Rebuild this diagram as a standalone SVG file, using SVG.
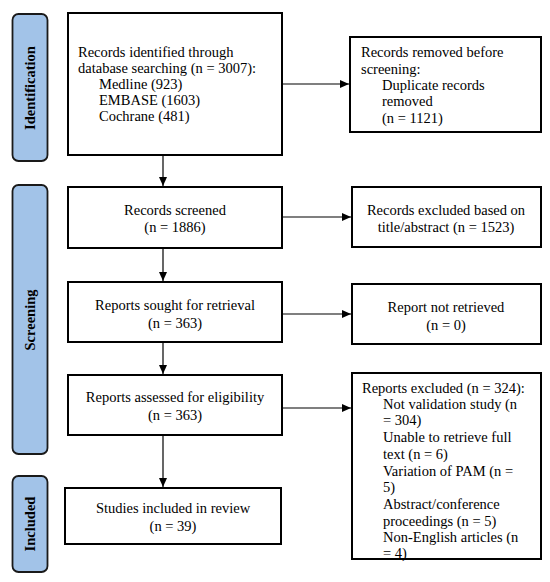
<svg xmlns="http://www.w3.org/2000/svg" width="550" height="582" viewBox="0 0 550 582">
<style>
.box{fill:#fff;stroke:#000;stroke-width:2}
.lab{fill:#a2c3e8;stroke:#1a1a1a;stroke-width:1.8}
.t{font-size:14.5px;fill:#000}
.c{text-anchor:middle}
.lt{font-size:14.5px;font-weight:bold;fill:#000;text-anchor:middle}
.ln{stroke:#000;stroke-width:1.2;fill:none}
</style>
<defs>
<marker id="ah" markerWidth="10" markerHeight="8" refX="9" refY="4" orient="auto" markerUnits="userSpaceOnUse">
<path d="M0,0 L9,4 L0,8 Z" fill="#000"/>
</marker>
</defs>
<g font-family="Liberation Serif, Tinos, Times New Roman, DejaVu Serif, serif">
<g id="label-identification">
<rect class="lab" x="12.5" y="14" width="35" height="147" rx="6"/>
<text class="lt" transform="translate(35,88) rotate(-90)">Identification</text>
</g>
<g id="label-screening">
<rect class="lab" x="12.5" y="185" width="35" height="269" rx="6"/>
<text class="lt" transform="translate(35,320) rotate(-90)">Screening</text>
</g>
<g id="label-included">
<rect class="lab" x="12.5" y="476" width="35" height="96" rx="6"/>
<text class="lt" transform="translate(35,524) rotate(-90)">Included</text>
</g>
<g id="identified">
<rect class="box" x="68" y="13" width="214" height="142"/>
<text class="t" x="78" y="57">Records identified through</text>
<text class="t" x="78" y="73">database searching (n = 3007):</text>
<text class="t" x="99" y="89">Medline (923)</text>
<text class="t" x="99" y="105">EMBASE (1603)</text>
<text class="t" x="99" y="121">Cochrane (481)</text>
</g>
<g id="removed">
<rect class="box" x="350" y="37" width="191" height="95"/>
<text class="t" x="361" y="57">Records removed before</text>
<text class="t" x="361" y="74">screening:</text>
<text class="t" x="382" y="90">Duplicate records</text>
<text class="t" x="382" y="106">removed</text>
<text class="t" x="382" y="123">(n = 1121)</text>
</g>
<g id="screened">
<rect class="box" x="68" y="187" width="214" height="61"/>
<text class="t c" x="175" y="215">Records screened</text>
<text class="t c" x="175" y="232">(n = 1886)</text>
</g>
<g id="excluded-title">
<rect class="box" x="352" y="187" width="189" height="60"/>
<text class="t c" x="446" y="215">Records excluded based on</text>
<text class="t c" x="446" y="232">title/abstract (n = 1523)</text>
</g>
<g id="sought">
<rect class="box" x="68" y="282" width="214" height="60"/>
<text class="t c" x="175" y="310">Reports sought for retrieval</text>
<text class="t c" x="175" y="328">(n = 363)</text>
</g>
<g id="not-retrieved">
<rect class="box" x="352" y="284" width="189" height="60"/>
<text class="t c" x="446" y="312">Report not retrieved</text>
<text class="t c" x="446" y="330">(n = 0)</text>
</g>
<g id="assessed">
<rect class="box" x="68" y="375" width="214" height="60"/>
<text class="t c" x="175" y="402">Reports assessed for eligibility</text>
<text class="t c" x="175" y="420">(n = 363)</text>
</g>
<g id="reports-excluded">
<rect class="box" x="352" y="373" width="189" height="186"/>
<text class="t" x="362" y="393">Reports excluded (n = 324):</text>
<text class="t" x="383" y="409">Not validation study (n</text>
<text class="t" x="383" y="425">= 304)</text>
<text class="t" x="383" y="442">Unable to retrieve full</text>
<text class="t" x="383" y="459">text (n = 6)</text>
<text class="t" x="383" y="476">Variation of PAM (n =</text>
<text class="t" x="383" y="492">5)</text>
<text class="t" x="383" y="509">Abstract/conference</text>
<text class="t" x="383" y="526">proceedings (n = 5)</text>
<text class="t" x="383" y="542">Non-English articles (n</text>
<text class="t" x="383" y="558">= 4)</text>
</g>
<g id="included">
<rect class="box" x="65" y="488" width="216" height="56"/>
<text class="t c" x="173" y="513">Studies included in review</text>
<text class="t c" x="173" y="531">(n = 39)</text>
</g>
</g>
<g id="connectors">
<line class="ln" x1="163" y1="155" x2="163" y2="186" marker-end="url(#ah)"/>
<line class="ln" x1="163" y1="248" x2="163" y2="281" marker-end="url(#ah)"/>
<line class="ln" x1="163" y1="342" x2="163" y2="374" marker-end="url(#ah)"/>
<line class="ln" x1="163" y1="435" x2="163" y2="487" marker-end="url(#ah)"/>
<line class="ln" x1="282" y1="84" x2="349" y2="84" marker-end="url(#ah)"/>
<line class="ln" x1="282" y1="217" x2="351" y2="217" marker-end="url(#ah)"/>
<line class="ln" x1="282" y1="314" x2="351" y2="314" marker-end="url(#ah)"/>
<line class="ln" x1="282" y1="408" x2="351" y2="408" marker-end="url(#ah)"/>
</g>
</svg>
